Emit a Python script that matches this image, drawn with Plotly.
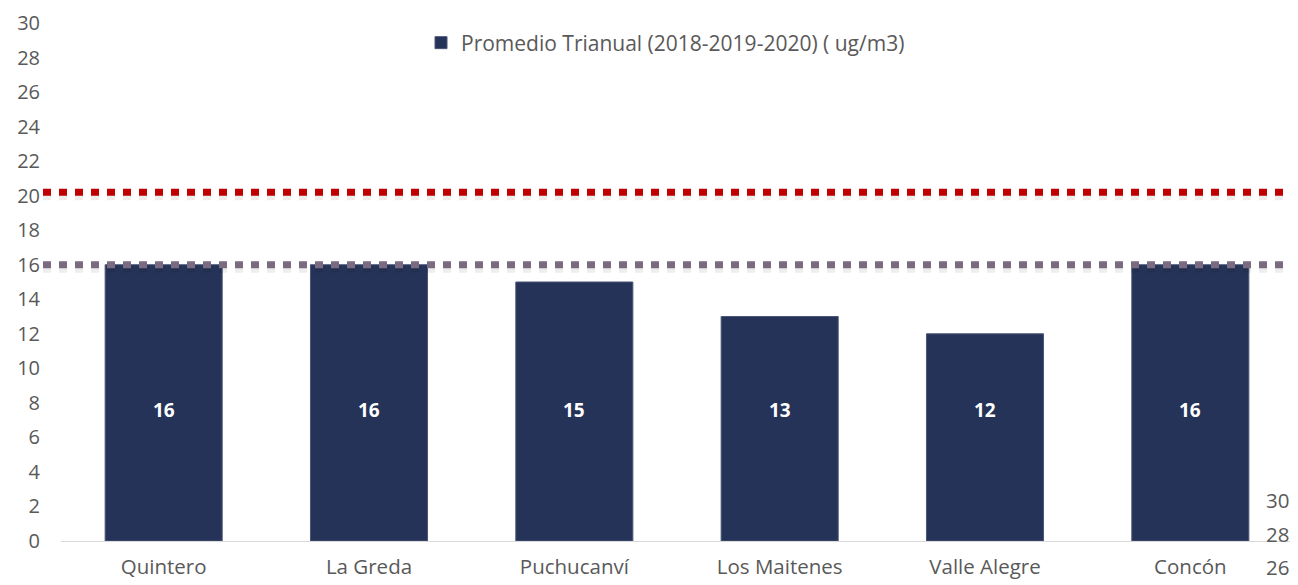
import plotly.graph_objects as go

categories = ["Quintero", "La Greda", "Puchucanví", "Los Maitenes", "Valle Alegre", "Concón"]
values = [16, 16, 15, 13, 12, 16]
series_name = "Promedio Trianual (2018-2019-2020) ( ug/m3)"
red_level = 20.2
gray_level = 16
y_ticks = list(range(0, 31, 2))
right_tick_labels = ["30", "28", "26"]

BAR = "#253358"
TXT = "#595959"
FONT = "Open Sans"

# page body has an 8px margin, so the figure is sized/offset to compensate
W, H = 1290, 577
ML, MR, MT, MB = 53, 5, 15, 44
PW = W - ML - MR
PH = H - MT - MB

fig = go.Figure()
fig.add_trace(go.Bar(
    x=categories, y=values, name=series_name,
    marker=dict(color=BAR, line=dict(color="#4b5677", width=1)),
    width=0.57,
))

# data labels
for c, v in zip(categories, values):
    fig.add_annotation(x=c, y=7.6, text=f"<b>{v}</b>", showarrow=False,
                       font=dict(family=FONT, size=19, color="white"))

# reference dotted lines (with faint shadow)
x0 = (35 - ML) / PW
x1 = (W - ML) / PW
for lvl, col in [(red_level, "#C00000"), (gray_level, "#7A6B80")]:
    fig.add_shape(type="line", xref="paper", yref="y", x0=x0, x1=x1,
                  y0=lvl - 0.2, y1=lvl - 0.2,
                  line=dict(color="rgba(0,0,0,0.07)", width=9, dash="8px,8px"))
    fig.add_shape(type="line", xref="paper", yref="y", x0=x0, x1=x1,
                  y0=lvl, y1=lvl,
                  line=dict(color=col, width=7, dash="8px,8px"))

# stray right-hand axis labels
for i, t in enumerate(right_tick_labels):
    fig.add_annotation(xref="paper", yref="paper", x=(1283 - ML) / PW,
                       y=(41 - 33.5 * i) / PH,
                       text=t, showarrow=False, xanchor="right", yanchor="middle",
                       font=dict(family=FONT, size=20.5, color=TXT))

fig.update_layout(
    width=W, height=H,
    margin=dict(l=ML, r=MR, t=MT, b=MB, autoexpand=False),
    plot_bgcolor="white", paper_bgcolor="white",
    font=dict(family=FONT, size=20.5, color=TXT),
    showlegend=True,
    legend=dict(orientation="h", x=(413 - ML) / PW, y=(PH - 35 + MT) / PH,
                xanchor="left", yanchor="middle",
                font=dict(family=FONT, size=21, color=TXT), itemwidth=30,
                bgcolor="rgba(0,0,0,0)"),
    xaxis=dict(showgrid=False, showline=True, linecolor="#D9D9D9", linewidth=1,
               ticks="", tickfont=dict(family=FONT, size=20.5, color=TXT),
               ticklabelstandoff=7, automargin=False),
    yaxis=dict(range=[0, 30], tickvals=y_ticks, showgrid=False, zeroline=False,
               showline=False, ticks="", tickfont=dict(family=FONT, size=20, color=TXT),
               ticklabelstandoff=20, automargin=False, ticklabeloverflow="allow"),
)

fig.write_html("out.html")
